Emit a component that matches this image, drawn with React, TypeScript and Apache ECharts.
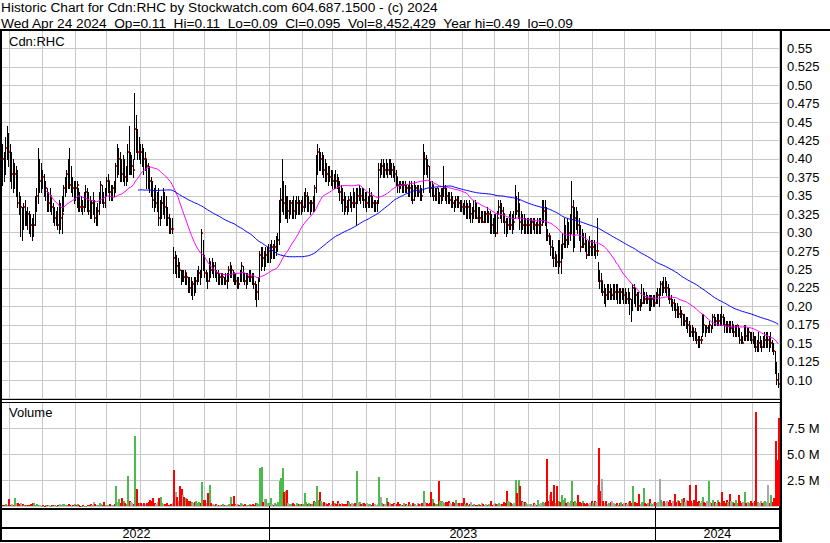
import React, { useEffect, useRef } from "react";
import * as echarts from "echarts";

// ---- Daily data, Apr 25 2022 .. Apr 24 2024 (one entry per weekday), one line per month ----
const high = [
  0.42,0.41,0.43,0.445,0.435,
  0.42,0.41,0.40,0.395,0.39,0.385,0.355,0.35,0.335,0.34,0.345,0.33,0.335,0.33,0.325,0.32,0.325,0.35,0.36,0.415,0.40,0.395,
  0.385,0.38,0.37,0.36,0.355,0.36,0.35,0.34,0.335,0.33,0.335,0.345,0.34,0.35,0.365,0.375,0.385,0.40,0.415,0.39,0.375,0.37,
  0.37,0.37,0.36,0.355,0.35,0.345,0.355,0.365,0.36,0.355,0.35,0.345,0.355,0.345,0.335,0.34,0.355,0.37,0.365,0.355,0.36,
  0.375,0.38,0.37,0.365,0.365,0.37,0.395,0.42,0.415,0.41,0.40,0.405,0.40,0.39,0.42,0.445,0.41,0.405,0.40,0.49,0.46,0.44,0.43,
  0.42,0.42,0.415,0.41,0.40,0.395,0.39,0.375,0.37,0.36,0.365,0.355,0.36,0.345,0.35,0.36,0.355,0.35,0.335,0.325,0.32,0.32,
  0.28,0.275,0.27,0.265,0.26,0.25,0.25,0.25,0.25,0.245,0.24,0.24,0.24,0.235,0.24,0.24,0.25,0.255,0.25,0.305,0.29,
  0.27,0.25,0.245,0.265,0.26,0.265,0.26,0.26,0.25,0.25,0.245,0.245,0.245,0.24,0.245,0.245,0.255,0.26,0.255,0.25,0.245,0.245,
  0.24,0.24,0.25,0.26,0.255,0.245,0.245,0.245,0.25,0.25,0.245,0.245,0.235,0.23,0.24,0.275,0.28,0.28,0.275,0.28,0.28,0.285,
  0.285,0.29,0.285,0.29,0.295,0.30,0.345,0.36,0.40,0.37,0.365,0.35,0.35,0.345,0.345,0.345,0.35,0.345,0.35,0.35,0.345,0.345,
  0.35,0.355,0.36,0.355,0.35,0.345,0.345,0.35,0.365,0.405,0.42,0.415,0.41,0.41,0.405,0.40,0.395,0.39,0.39,0.385,
  0.385,0.38,0.385,0.38,0.375,0.37,0.365,0.36,0.355,0.35,0.345,0.35,0.355,0.35,0.36,0.355,0.36,0.36,0.365,0.36,0.36,0.36,0.355,
  0.355,0.35,0.36,0.355,0.35,0.345,0.345,0.345,0.395,0.395,0.40,0.40,0.395,0.40,0.395,0.40,0.40,0.395,0.395,0.39,
  0.385,0.375,0.37,0.37,0.37,0.37,0.37,0.365,0.365,0.37,0.37,0.365,0.37,0.365,0.365,0.365,0.365,0.36,0.42,0.41,0.405,0.40,0.39,
  0.37,0.37,0.365,0.36,0.36,0.36,0.355,0.36,0.36,0.39,0.365,0.36,0.355,0.355,0.355,0.35,0.345,0.35,0.35,0.35,0.345,0.345,
  0.34,0.345,0.345,0.34,0.345,0.34,0.335,0.345,0.345,0.34,0.335,0.335,0.33,0.33,0.33,0.33,0.335,0.33,0.33,0.325,0.32,
  0.325,0.325,0.33,0.345,0.345,0.34,0.335,0.325,0.32,0.32,0.325,0.33,0.325,0.33,0.365,0.35,0.355,0.34,0.33,0.325,0.325,0.32,0.32,
  0.32,0.32,0.32,0.32,0.32,0.315,0.32,0.32,0.32,0.345,0.345,0.345,0.335,0.305,0.30,0.295,0.29,0.28,0.275,0.27,0.29,
  0.29,0.285,0.30,0.32,0.31,0.32,0.315,0.325,0.37,0.345,0.335,0.335,0.33,0.32,0.31,0.305,0.30,0.30,0.29,0.29,0.295,0.29,
  0.29,0.29,0.285,0.32,0.26,0.25,0.245,0.235,0.23,0.225,0.23,0.23,0.23,0.225,0.23,0.23,0.23,0.23,0.225,0.225,0.225,0.225,
  0.225,0.22,0.225,0.22,0.21,0.23,0.23,0.225,0.22,0.22,0.21,0.23,0.225,0.22,0.22,0.215,0.215,0.215,0.215,0.215,0.215,
  0.22,0.225,0.225,0.235,0.235,0.24,0.24,0.235,0.23,0.225,0.215,0.21,0.21,0.205,0.205,0.20,0.20,0.195,0.19,0.19,0.185,0.185,0.18,
  0.175,0.175,0.17,0.17,0.165,0.16,0.16,0.16,0.19,0.19,0.175,0.175,0.175,0.18,0.175,0.19,0.19,0.185,0.19,0.19,0.19,
  0.20,0.19,0.185,0.18,0.18,0.18,0.18,0.18,0.175,0.175,0.175,0.175,0.17,0.165,0.16,0.175,0.175,0.17,0.17,0.165,0.165,
  0.165,0.16,0.16,0.155,0.165,0.16,0.155,0.16,0.165,0.165,0.165,0.16,0.165,0.155,0.15,0.14,0.125,0.11,
];

const low = [
  0.365,0.37,0.38,0.40,0.39,
  0.37,0.36,0.355,0.36,0.35,0.335,0.325,0.295,0.29,0.305,0.31,0.31,0.305,0.30,0.295,0.29,0.295,0.31,0.33,0.34,0.355,0.355,
  0.36,0.35,0.345,0.33,0.33,0.33,0.325,0.315,0.31,0.31,0.305,0.30,0.305,0.30,0.33,0.35,0.355,0.36,0.36,0.355,0.35,0.34,
  0.345,0.335,0.33,0.33,0.33,0.325,0.33,0.335,0.33,0.325,0.32,0.32,0.325,0.315,0.31,0.31,0.325,0.34,0.34,0.335,0.335,
  0.35,0.355,0.345,0.345,0.345,0.35,0.355,0.375,0.38,0.37,0.37,0.37,0.365,0.365,0.37,0.38,0.38,0.38,0.375,0.40,0.41,0.40,0.40,
  0.395,0.39,0.38,0.385,0.36,0.36,0.355,0.35,0.335,0.33,0.335,0.33,0.31,0.31,0.32,0.325,0.32,0.31,0.31,0.30,0.30,0.30,
  0.245,0.245,0.24,0.24,0.24,0.23,0.235,0.235,0.23,0.23,0.22,0.22,0.215,0.21,0.215,0.22,0.23,0.235,0.23,0.24,0.25,
  0.24,0.235,0.225,0.235,0.24,0.245,0.24,0.24,0.235,0.23,0.23,0.23,0.23,0.23,0.23,0.225,0.235,0.24,0.24,0.235,0.23,0.23,
  0.225,0.225,0.235,0.235,0.235,0.23,0.225,0.23,0.235,0.235,0.23,0.225,0.21,0.20,0.21,0.235,0.25,0.255,0.25,0.255,0.26,0.26,
  0.26,0.265,0.265,0.265,0.27,0.275,0.285,0.315,0.33,0.325,0.32,0.32,0.315,0.32,0.325,0.32,0.32,0.32,0.325,0.325,0.325,0.325,
  0.33,0.33,0.335,0.33,0.33,0.325,0.33,0.33,0.33,0.355,0.38,0.385,0.385,0.38,0.375,0.37,0.37,0.365,0.37,0.365,
  0.36,0.36,0.36,0.36,0.355,0.345,0.34,0.33,0.325,0.33,0.325,0.33,0.335,0.33,0.335,0.335,0.31,0.34,0.345,0.34,0.345,0.335,0.335,
  0.33,0.335,0.335,0.335,0.335,0.33,0.33,0.33,0.34,0.375,0.38,0.375,0.375,0.38,0.375,0.38,0.38,0.375,0.375,0.37,
  0.365,0.355,0.355,0.36,0.355,0.355,0.355,0.355,0.35,0.35,0.345,0.34,0.345,0.35,0.35,0.35,0.345,0.345,0.355,0.38,0.38,0.375,0.355,
  0.35,0.35,0.345,0.345,0.345,0.34,0.34,0.34,0.345,0.35,0.345,0.34,0.34,0.34,0.335,0.335,0.33,0.335,0.335,0.335,0.33,0.33,
  0.325,0.325,0.32,0.32,0.32,0.315,0.315,0.32,0.32,0.32,0.315,0.315,0.315,0.315,0.315,0.315,0.315,0.315,0.30,0.30,0.30,
  0.30,0.295,0.30,0.325,0.32,0.315,0.315,0.30,0.295,0.30,0.305,0.305,0.30,0.305,0.32,0.325,0.32,0.305,0.30,0.305,0.30,0.30,0.30,
  0.30,0.30,0.30,0.305,0.30,0.30,0.30,0.30,0.30,0.31,0.315,0.31,0.29,0.29,0.285,0.27,0.265,0.255,0.255,0.255,0.245,
  0.255,0.245,0.265,0.28,0.28,0.28,0.285,0.29,0.30,0.275,0.28,0.305,0.30,0.29,0.275,0.28,0.28,0.275,0.265,0.27,0.27,0.27,
  0.27,0.27,0.265,0.27,0.235,0.225,0.22,0.215,0.205,0.20,0.21,0.21,0.21,0.21,0.21,0.21,0.21,0.205,0.205,0.205,0.21,0.205,
  0.205,0.205,0.205,0.19,0.18,0.195,0.205,0.20,0.195,0.195,0.195,0.20,0.205,0.205,0.205,0.205,0.195,0.195,0.20,0.20,0.20,
  0.205,0.205,0.20,0.215,0.215,0.22,0.22,0.215,0.21,0.205,0.20,0.195,0.195,0.185,0.185,0.185,0.185,0.175,0.175,0.175,0.17,0.165,0.16,
  0.16,0.16,0.155,0.155,0.15,0.145,0.145,0.15,0.16,0.165,0.16,0.165,0.165,0.165,0.165,0.17,0.175,0.175,0.175,0.175,0.175,
  0.175,0.175,0.165,0.165,0.165,0.165,0.165,0.165,0.16,0.16,0.16,0.16,0.15,0.15,0.15,0.155,0.155,0.155,0.155,0.155,0.15,
  0.15,0.145,0.14,0.14,0.14,0.145,0.14,0.145,0.145,0.145,0.145,0.14,0.145,0.14,0.135,0.11,0.095,0.09,
];

const close = [
  0.40,0.385,0.415,0.43,0.41,
  0.38,0.38,0.375,0.38,0.38,0.34,0.335,0.335,0.305,0.335,0.32,0.33,0.325,0.32,0.31,0.305,0.31,0.345,0.35,0.37,0.37,0.38,
  0.375,0.355,0.36,0.34,0.34,0.35,0.335,0.315,0.32,0.325,0.31,0.31,0.32,0.325,0.36,0.365,0.38,0.37,0.365,0.365,0.36,0.365,
  0.36,0.365,0.345,0.335,0.34,0.335,0.35,0.355,0.345,0.33,0.325,0.34,0.34,0.32,0.32,0.33,0.35,0.365,0.345,0.34,0.35,
  0.37,0.37,0.355,0.355,0.36,0.355,0.39,0.39,0.40,0.385,0.38,0.395,0.375,0.38,0.41,0.39,0.39,0.39,0.385,0.44,0.425,0.41,0.415,
  0.41,0.41,0.40,0.40,0.39,0.375,0.37,0.365,0.345,0.34,0.34,0.34,0.32,0.325,0.34,0.34,0.335,0.33,0.32,0.31,0.305,0.305,
  0.265,0.265,0.255,0.255,0.25,0.245,0.245,0.24,0.245,0.24,0.23,0.225,0.23,0.23,0.225,0.235,0.24,0.245,0.24,0.30,0.26,
  0.245,0.245,0.235,0.26,0.25,0.25,0.255,0.245,0.245,0.24,0.24,0.235,0.24,0.235,0.235,0.24,0.25,0.255,0.25,0.245,0.235,0.235,
  0.235,0.23,0.245,0.255,0.24,0.235,0.235,0.24,0.245,0.24,0.235,0.23,0.215,0.22,0.235,0.27,0.275,0.265,0.265,0.27,0.27,0.275,
  0.28,0.28,0.275,0.28,0.285,0.29,0.33,0.345,0.35,0.34,0.345,0.33,0.33,0.335,0.34,0.335,0.33,0.33,0.34,0.335,0.34,0.33,
  0.335,0.345,0.35,0.335,0.34,0.335,0.34,0.335,0.36,0.39,0.41,0.395,0.40,0.40,0.385,0.385,0.38,0.375,0.375,0.375,
  0.37,0.375,0.37,0.365,0.365,0.355,0.355,0.345,0.34,0.335,0.33,0.345,0.34,0.34,0.345,0.34,0.35,0.35,0.355,0.35,0.355,0.345,0.34,
  0.34,0.345,0.35,0.345,0.34,0.34,0.34,0.34,0.385,0.385,0.39,0.385,0.385,0.39,0.385,0.385,0.39,0.385,0.38,0.38,
  0.375,0.365,0.36,0.365,0.36,0.365,0.36,0.36,0.355,0.36,0.36,0.345,0.36,0.36,0.36,0.355,0.355,0.35,0.40,0.40,0.395,0.39,0.365,
  0.36,0.365,0.35,0.355,0.36,0.345,0.35,0.355,0.355,0.36,0.355,0.35,0.345,0.345,0.345,0.34,0.335,0.345,0.345,0.34,0.34,0.335,
  0.33,0.335,0.33,0.335,0.325,0.325,0.32,0.33,0.325,0.32,0.325,0.32,0.32,0.315,0.325,0.325,0.32,0.325,0.32,0.31,0.31,
  0.31,0.30,0.32,0.335,0.335,0.33,0.325,0.315,0.30,0.31,0.315,0.31,0.315,0.315,0.34,0.33,0.345,0.315,0.31,0.31,0.305,0.31,0.31,
  0.31,0.315,0.315,0.31,0.31,0.305,0.31,0.31,0.31,0.32,0.33,0.325,0.30,0.295,0.295,0.28,0.27,0.265,0.27,0.26,0.265,
  0.26,0.275,0.285,0.30,0.29,0.30,0.30,0.305,0.335,0.28,0.32,0.325,0.31,0.30,0.28,0.29,0.285,0.28,0.27,0.28,0.28,0.275,
  0.28,0.275,0.275,0.275,0.245,0.235,0.235,0.22,0.22,0.215,0.215,0.22,0.215,0.215,0.215,0.22,0.215,0.22,0.21,0.22,0.215,0.215,
  0.21,0.21,0.215,0.21,0.195,0.225,0.22,0.215,0.21,0.20,0.20,0.205,0.215,0.21,0.205,0.21,0.205,0.205,0.21,0.21,0.205,
  0.215,0.215,0.215,0.23,0.23,0.225,0.225,0.225,0.215,0.21,0.205,0.205,0.20,0.195,0.195,0.19,0.185,0.19,0.18,0.18,0.18,0.175,0.17,
  0.165,0.17,0.165,0.16,0.155,0.15,0.155,0.155,0.185,0.175,0.17,0.17,0.175,0.175,0.17,0.185,0.18,0.18,0.185,0.18,0.19,
  0.185,0.18,0.175,0.17,0.175,0.17,0.17,0.175,0.165,0.17,0.175,0.165,0.155,0.15,0.15,0.165,0.16,0.16,0.165,0.16,0.155,
  0.155,0.15,0.145,0.15,0.15,0.15,0.145,0.15,0.155,0.155,0.155,0.145,0.15,0.145,0.14,0.115,0.10,0.095,
];

// volume in millions of shares
const volume = [
  0.15,0.1,0.2,0.15,0.7,
  0.15,0.2,0.1,0.8,0.3,0.35,0.25,0.3,0.2,0.15,0.1,0.1,0.1,0.1,0.25,0.3,0.3,0.1,0.2,0.15,0.1,0.05,
  0.1,0.05,0.1,0.15,0.1,0.05,0.1,0.15,0.1,0.05,0.15,0.2,0.15,0.2,0.25,0.1,0.15,0.2,0.1,0.05,0.1,0.2,
  0.1,0.2,0.1,0.05,0.05,0.1,0.05,0.05,0.15,0.1,0.2,0.15,0.45,0.2,0.1,0.15,0.3,0.2,0.1,0.45,0.15,
  0.15,0.1,0.2,0.1,0.15,0.2,1.95,0.45,0.7,0.3,0.8,0.5,0.3,0.2,2.9,0.5,0.4,0.35,0.2,6.7,1.67,0.35,0.3,
  0.3,0.25,0.3,0.2,0.3,0.45,0.6,0.5,0.75,0.3,0.2,0.4,0.75,0.9,0.3,0.2,0.25,0.3,0.15,0.1,0.2,0.3,
  3.5,1.4,0.9,0.5,1.95,1.7,1.1,0.9,0.75,0.7,0.5,0.5,0.45,0.3,0.45,0.55,0.3,0.4,0.35,2.3,0.6,
  0.6,0.3,1.3,2.05,0.3,0.2,0.15,0.2,0.1,0.15,0.1,0.15,0.2,0.1,0.1,0.15,0.2,0.93,0.2,1.0,0.2,0.15,
  0.2,0.15,0.3,0.2,0.1,0.2,0.15,0.1,0.25,0.1,0.2,0.15,0.3,0.35,0.2,3.7,3.8,0.4,0.7,0.7,0.3,0.3,
  0.77,0.2,0.15,0.3,0.25,0.4,2.4,2.75,3.7,1.4,1.5,1.6,0.3,0.2,0.25,0.3,0.2,0.15,0.3,0.2,0.25,0.2,
  0.2,1.25,0.4,0.2,0.3,0.2,0.25,0.5,0.4,1.95,0.6,1.4,0.5,0.3,0.45,0.3,0.2,0.3,0.15,0.2,
  0.5,0.3,0.2,0.5,0.3,0.25,0.3,0.2,0.25,0.2,0.5,0.45,0.2,0.3,0.25,0.3,3.4,0.45,0.4,0.2,0.35,0.3,0.2,
  0.3,0.2,0.25,0.15,0.3,0.2,0.15,0.25,2.8,0.9,0.3,0.2,0.2,0.77,0.4,0.3,0.25,0.2,0.3,0.2,
  0.25,0.4,0.2,0.15,0.1,0.3,0.2,0.15,0.38,0.2,0.15,0.3,0.2,0.15,0.3,0.2,0.25,0.3,1.5,0.4,0.3,0.2,0.3,
  1.35,0.7,0.3,0.2,0.25,2.4,0.5,0.5,0.4,0.3,0.4,0.45,0.5,0.3,0.2,0.4,0.3,0.6,0.3,0.3,0.3,0.3,
  0.77,0.2,0.3,0.15,0.2,0.38,0.1,0.2,0.15,0.1,0.2,0.15,0.3,0.2,0.15,0.2,0.1,0.25,0.5,0.15,0.2,
  0.3,0.25,0.2,0.3,0.25,0.2,0.45,0.3,1.5,0.5,0.45,0.3,0.2,0.3,2.5,1.3,2.5,1.9,0.5,0.45,0.4,0.3,0.2,
  0.2,0.25,0.15,0.3,0.2,0.15,0.6,0.2,0.3,0.45,0.3,0.45,4.55,0.5,1.1,1.4,0.5,2.05,0.3,1.9,0.5,
  0.4,1.1,0.6,0.8,0.3,0.4,0.3,0.5,2.4,0.45,0.5,0.3,1.1,0.4,0.3,0.5,0.3,0.2,0.3,0.25,0.3,0.5,
  0.3,0.5,0.4,2.0,5.6,1.5,2.6,0.5,0.3,0.5,0.2,0.3,0.4,0.5,0.3,0.2,0.3,0.15,0.3,0.4,0.2,0.3,
  0.3,0.2,0.4,0.5,0.3,1.9,0.4,0.3,0.3,1.15,0.2,0.4,1.8,0.3,0.2,0.3,0.7,0.3,0.2,0.3,0.4,
  0.3,0.4,2.6,0.6,0.4,0.5,0.3,0.5,0.4,0.6,0.3,0.5,1.15,0.4,0.6,0.5,0.3,0.7,0.8,0.4,0.6,0.5,2.0,
  0.5,0.3,0.6,2.05,0.4,0.5,0.3,0.5,0.9,0.4,0.3,0.5,2.4,0.4,0.3,0.6,0.4,0.3,0.6,0.4,0.3,
  1.4,0.5,0.3,0.6,0.4,1.2,0.5,0.4,0.3,0.6,0.3,1.1,0.5,0.3,0.4,1.4,0.3,0.4,0.3,0.5,0.3,
  0.4,0.5,9.0,0.4,0.3,0.5,0.3,0.4,0.5,0.4,2.0,0.3,1.1,0.4,0.8,6.3,4.45,8.45,
];

const headerLine1 = "Historic Chart for Cdn:RHC by Stockwatch.com 604.687.1500 - (c) 2024";
const headerLine2 = "Wed Apr 24 2024  Op=0.11  Hi=0.11  Lo=0.09  Cl=0.095  Vol=8,452,429  Year hi=0.49  lo=0.09";
const symbolLabel = "Cdn:RHC";
const volumeLabel = "Volume";
const shortMaPeriod = 30;
const longMaPeriod = 92;

const FONT = "Liberation Sans";

function weekdays(): string[] {
  const out: string[] = [];
  const d = new Date(Date.UTC(2022, 3, 25));
  const end = Date.UTC(2024, 3, 24);
  while (d.getTime() <= end) {
    const wd = d.getUTCDay();
    if (wd !== 0 && wd !== 6) out.push(d.toISOString().slice(0, 10));
    d.setUTCDate(d.getUTCDate() + 1);
  }
  return out;
}

function sma(src: number[], n: number): (number | null)[] {
  return src.map((_, i) => {
    if (i < n - 1) return null;
    let s = 0;
    for (let k = i - n + 1; k <= i; k++) s += src[k];
    return s / n;
  });
}

export default function App() {
  const ref = useRef<HTMLDivElement>(null);

  useEffect(() => {
    if (!ref.current) return;
    const chart = echarts.init(ref.current, undefined, { renderer: "svg" });

    const n = Math.min(high.length, low.length, close.length, volume.length);
    const dates = weekdays().slice(0, n);

    const monthStart = new Set<number>();
    const yearStart = new Set<number>();
    const yearRanges: Record<string, [number, number]> = {};
    dates.forEach((d, i) => {
      const y = d.slice(0, 4);
      if (!yearRanges[y]) yearRanges[y] = [i, i];
      yearRanges[y][1] = i;
      if (i > 0 && d.slice(0, 7) !== dates[i - 1].slice(0, 7)) monthStart.add(i);
      if (i > 0 && y !== dates[i - 1].slice(0, 4)) yearStart.add(i);
    });
    const yearMid = new Set<number>(
      Object.values(yearRanges).map(([a, b]) => Math.round((a + b) / 2))
    );

    const ohlc = dates.map((_, i) => [i, high[i], low[i], close[i]]);
    const vol = dates.map((_, i) => {
      const dir = i === 0 ? -1 : close[i] > close[i - 1] ? 1 : close[i] < close[i - 1] ? -1 : 0;
      return [i, volume[i], dir];
    });

    const grid = "#c8c8c8";
    const priceFmt = (v: number) => {
      if (v < 0.09 || v > 0.56) return "";
      const r = Math.round(v * 1000) / 1000;
      const s3 = r.toFixed(3);
      return s3.endsWith("0") ? r.toFixed(2) : s3;
    };

    const txt = (text: string, left: number, top: number, size: number) => ({
      type: "text", left, top, z: 20, silent: true,
      style: { text, fontSize: size, fontFamily: FONT, fill: "#000" },
    });
    const box = (x: number, y: number, width: number, height: number) => ({
      type: "rect", z: 20, silent: true, shape: { x, y, width, height }, style: { fill: "#000" },
    });

    const option: any = {
      animation: false,
      backgroundColor: "#ffffff",
      textStyle: { fontFamily: FONT },
      grid: [
        { left: 2, top: 30, width: 777, height: 368.5 },
        { left: 2, top: 402, width: 777, height: 104.3 },
      ],
      xAxis: [
        {
          type: "category", gridIndex: 0, data: dates, boundaryGap: true,
          axisLine: { show: false }, axisTick: { show: false }, axisLabel: { show: false },
          splitLine: { show: true, interval: (i: number) => monthStart.has(i), lineStyle: { color: grid, width: 1 } },
        },
        {
          type: "category", gridIndex: 1, data: dates, boundaryGap: true,
          axisLine: { show: false },
          axisTick: { show: true, interval: (i: number) => yearStart.has(i), length: 34, lineStyle: { color: "#000", width: 1 } },
          axisLabel: {
            show: true, interval: (i: number) => yearMid.has(i), formatter: (v: string) => v.slice(0, 4),
            margin: 21, fontSize: 12.5, color: "#000", fontFamily: FONT,
          },
          splitLine: { show: true, interval: (i: number) => monthStart.has(i), lineStyle: { color: grid, width: 1 } },
        },
      ],
      yAxis: [
        {
          type: "value", gridIndex: 0, position: "right", min: 0.075, max: 0.575, interval: 0.025,
          axisLine: { show: false }, axisTick: { show: false },
          axisLabel: { formatter: priceFmt, margin: 8, fontSize: 13, color: "#000", fontFamily: FONT },
          splitLine: { show: true, lineStyle: { color: grid, width: 1 } },
        },
        {
          type: "value", gridIndex: 1, position: "right", min: 0, max: 10, interval: 2.5,
          axisLine: { show: false }, axisTick: { show: false },
          axisLabel: {
            formatter: (v: number) => (v <= 0 || v >= 10 ? "" : v.toFixed(1) + " M"),
            margin: 8, fontSize: 13, color: "#000", fontFamily: FONT,
          },
          splitLine: { show: true, lineStyle: { color: grid, width: 1 } },
        },
      ],
      series: [
        {
          type: "custom", name: "price", xAxisIndex: 0, yAxisIndex: 0, data: ohlc, z: 2,
          encode: { x: 0, y: [1, 2, 3] }, silent: true,
          renderItem: (_p: any, api: any) => {
            const i = api.value(0);
            const ph = api.coord([i, api.value(1)]);
            const pl = api.coord([i, api.value(2)]);
            const pc = api.coord([i, api.value(3)]);
            const x = Math.floor(ph[0]);
            const y1 = Math.round(ph[1]);
            const y2 = Math.round(pl[1]);
            const yc = Math.round(pc[1]);
            return {
              type: "group",
              children: [
                { type: "rect", shape: { x, y: y1, width: 1, height: Math.max(1, y2 - y1 + 1) }, style: { fill: "#000" } },
                { type: "rect", shape: { x: x + 1, y: yc - 1, width: 1, height: 2 }, style: { fill: "#ff0000" } },
              ],
            };
          },
        },
        {
          type: "line", name: "ma30", xAxisIndex: 0, yAxisIndex: 0, data: sma(close.slice(0, n), shortMaPeriod),
          showSymbol: false, symbol: "none", silent: true, z: 3,
          lineStyle: { color: "#ff00ff", width: 1 },
        },
        {
          type: "line", name: "ma92", xAxisIndex: 0, yAxisIndex: 0, data: sma(close.slice(0, n), longMaPeriod),
          showSymbol: false, symbol: "none", silent: true, z: 3,
          lineStyle: { color: "#0000ff", width: 1 },
        },
        {
          type: "custom", name: "volume", xAxisIndex: 1, yAxisIndex: 1, data: vol, z: 2,
          encode: { x: 0, y: 1 }, silent: true,
          renderItem: (_p: any, api: any) => {
            const i = api.value(0);
            const top = api.coord([i, api.value(1)]);
            const base = api.coord([i, 0]);
            const dir = api.value(2);
            const fill = dir > 0 ? "#4cbb4c" : dir < 0 ? "#ff0000" : "#a8a8a8";
            const x = Math.floor(top[0]);
            const yt = Math.round(top[1]);
            const yb = Math.round(base[1]);
            return { type: "rect", shape: { x, y: yt, width: 2, height: Math.max(1, yb - yt) }, style: { fill } };
          },
        },
      ],
      graphic: [
        txt(headerLine1, 1, 0, 13.7),
        txt(headerLine2, 1, 16, 13.7),
        txt(symbolLabel, 9, 35, 13),
        txt(volumeLabel, 9, 406, 13),
        box(0, 29, 830, 2),
        box(0, 29, 2, 513),
        box(780, 29, 2, 513),
        box(0, 399, 780, 1),
        box(0, 402, 780, 1),
        box(0, 508, 780, 2),
        box(0, 527, 780, 2),
        box(0, 540, 782, 2),
      ],
    };

    chart.setOption(option);
    return () => chart.dispose();
  }, []);

  return (
    <div
      ref={ref}
      style={{ position: "fixed", left: 0, top: 0, width: 830, height: 543, background: "#fff" }}
    />
  );
}
